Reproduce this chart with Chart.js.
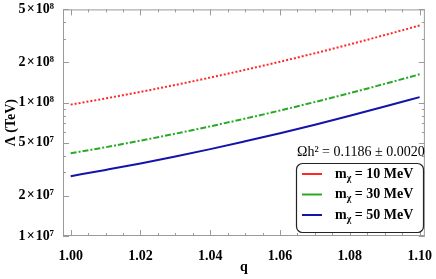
<!DOCTYPE html>
<html>
<head>
<meta charset="utf-8">
<script src="https://cdn.jsdelivr.net/npm/chart.js@4.4.0/dist/chart.umd.min.js"></script>
<style>
  html, body { margin: 0; padding: 0; background: #fff; }
</style>
</head>
<body>
<canvas id="lambdaChart" width="436" height="279"></canvas>
<script>
// values
const qValues = [1.00, 1.01, 1.02, 1.03, 1.04, 1.05, 1.06, 1.07, 1.08, 1.09, 1.10];
const lambda10 = [9.66e7, 1.075e8, 1.204e8, 1.357e8, 1.541e8, 1.762e8, 2.026e8, 2.346e8, 2.735e8, 3.21e8, 3.79e8];
const lambda30 = [4.17e7, 4.63e7, 5.19e7, 5.85e7, 6.64e7, 7.59e7, 8.73e7, 1.011e8, 1.178e8, 1.383e8, 1.63e8];
const lambda50 = [2.81e7, 3.13e7, 3.50e7, 3.95e7, 4.48e7, 5.13e7, 5.90e7, 6.83e7, 7.96e7, 9.34e7, 1.10e8];
const masses = [10, 30, 50];
const xTicks = [1.00, 1.02, 1.04, 1.06, 1.08, 1.10];
const yTicks = [1e7, 2e7, 5e7, 1e8, 2e8, 5e8];
const yTickLabels = ['1\u200a×\u200a10⁷', '2\u200a×\u200a10⁷', '5\u200a×\u200a10⁷', '1\u200a×\u200a10⁸', '2\u200a×\u200a10⁸', '5\u200a×\u200a10⁸'];
const relicText = 'Ωh² = 0.1186 ± 0.0020';

const serif = "'Liberation Serif', 'DejaVu Serif', serif";
const tickFont = { family: serif, size: 14, weight: 'bold' };

function toPoints(ys) {
    return qValues.map((q, i) => ({ x: q, y: ys[i] }));
}

// frame + inward tick marks like the original
const framePlugin = {
    id: 'frame',
    afterDatasetsDraw(chart) {
        const { ctx, chartArea: a, scales: { x, y } } = chart;
        ctx.save();
        ctx.strokeStyle = '#9a9a9a';
        ctx.lineWidth = 1;
        ctx.strokeRect(a.left + 0.5, a.top + 0.5, a.width - 1, a.height - 1);

        ctx.beginPath();
        for (let v = 1.0; v <= 1.1001; v += 0.005) {
            const px = Math.round(x.getPixelForValue(v)) + 0.5;
            const major = xTicks.some(t => Math.abs(t - v) < 1e-6);
            const len = major ? 6 : 3;
            ctx.moveTo(px, a.bottom); ctx.lineTo(px, a.bottom - len);
            ctx.moveTo(px, a.top); ctx.lineTo(px, a.top + len);
        }
        for (let d = 1e7; d <= 1e8; d *= 10) {
            for (let m = 1; m <= 9; m++) {
                const v = m * d;
                if (v < 1e7 || v > 5e8) continue;
                const py = Math.round(y.getPixelForValue(v)) + 0.5;
                const len = yTicks.includes(v) ? 6 : 3;
                ctx.moveTo(a.left, py); ctx.lineTo(a.left + len, py);
                ctx.moveTo(a.right, py); ctx.lineTo(a.right - len, py);
            }
        }
        ctx.stroke();
        ctx.restore();
    }
};

// legend box with relic-density note
const legendPlugin = {
    id: 'boxLegend',
    afterDraw(chart) {
        const ctx = chart.ctx;
        ctx.save();
        ctx.fillStyle = '#000';
        ctx.font = '14px ' + serif;
        ctx.textBaseline = 'middle';
        ctx.textAlign = 'left';
        ctx.fillText(relicText, 297, 152);

        const bx = 296, by = 163, bw = 127, bh = 69;
        ctx.beginPath();
        ctx.roundRect(bx + 0.5, by + 0.5, bw, bh, 6);
        ctx.fillStyle = '#fff';
        ctx.fill();
        ctx.strokeStyle = '#222';
        ctx.lineWidth = 1.2;
        ctx.stroke();

        chart.data.datasets.forEach((ds, i) => {
            const ry = 174 + i * 20.5;
            ctx.beginPath();
            ctx.strokeStyle = ds.borderColor;
            ctx.lineWidth = 2;
            ctx.moveTo(302, ry); ctx.lineTo(322, ry);
            ctx.stroke();

            ctx.fillStyle = '#000';
            let tx = 335;
            ctx.font = 'bold 14px ' + serif;
            ctx.fillText('m', tx, ry);
            tx += ctx.measureText('m').width;
            ctx.font = 'bold 10px ' + serif;
            ctx.fillText('χ', tx, ry + 4);
            tx += ctx.measureText('χ').width;
            ctx.font = 'bold 14px ' + serif;
            ctx.fillText(' = ' + masses[i] + ' MeV', tx, ry);
        });
        ctx.restore();
    }
};

new Chart(document.getElementById('lambdaChart'), {
    type: 'line',
    data: {
        datasets: [{
            label: 'm_χ = 10 MeV',
            data: toPoints(lambda10),
            borderColor: 'rgb(255, 40, 40)',
            borderDash: [2, 2],
            borderWidth: 2,
            pointRadius: 0,
            cubicInterpolationMode: 'monotone'
        }, {
            label: 'm_χ = 30 MeV',
            data: toPoints(lambda30),
            borderColor: 'rgb(40, 170, 40)',
            borderDash: [6, 2, 2, 2],
            borderWidth: 2,
            pointRadius: 0,
            cubicInterpolationMode: 'monotone'
        }, {
            label: 'm_χ = 50 MeV',
            data: toPoints(lambda50),
            borderColor: 'rgb(20, 20, 170)',
            borderWidth: 2,
            pointRadius: 0,
            cubicInterpolationMode: 'monotone'
        }]
    },
    options: {
        responsive: false,
        animation: false,
        layout: { padding: { left: 0, right: 8, top: 9, bottom: 0 } },
        plugins: { legend: { display: false }, tooltip: { enabled: false } },
        scales: {
            x: {
                type: 'linear',
                min: 0.9978,
                max: 1.1015,
                afterBuildTicks: s => { s.ticks = xTicks.map(v => ({ value: v })); },
                afterFit: s => { s.height = 43; },
                grid: { display: false },
                border: { display: false },
                ticks: {
                    callback: v => v.toFixed(2),
                    font: tickFont, color: '#000', padding: 4,
                    maxRotation: 0, autoSkip: false
                },
                title: {
                    display: true, text: 'q', color: '#000',
                    font: { family: serif, size: 14, weight: 'bold' },
                    padding: { top: 4, bottom: 3 }
                }
            },
            y: {
                type: 'logarithmic',
                min: 1e7,
                max: 5e8,
                afterBuildTicks: s => { s.ticks = yTicks.map(v => ({ value: v })); },
                afterFit: s => { s.width = 63; },
                grid: { display: false },
                border: { display: false },
                ticks: {
                    callback: v => yTickLabels[yTicks.indexOf(v)],
                    font: tickFont, color: '#000', padding: 1, autoSkip: false
                },
                title: {
                    display: true, text: 'Λ (TeV)', color: '#000',
                    font: { family: serif, size: 14, weight: 'bold' },
                    padding: { top: 3, bottom: 4 }
                }
            }
        }
    },
    plugins: [framePlugin, legendPlugin]
});
</script>
</body>
</html>
